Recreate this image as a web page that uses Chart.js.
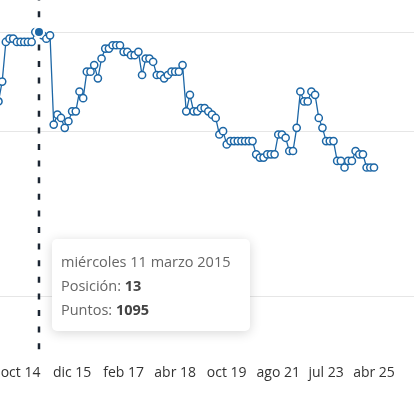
<!DOCTYPE html>
<html>
<head>
<meta charset="utf-8">
<script src="https://cdn.jsdelivr.net/npm/chart.js@4"></script>
<style>
  body { margin: 0; background: #fff; font-family: "Open Sans", sans-serif; }
  #wrap { position: relative; width: 414px; height: 400px; overflow: hidden; }
  #tip {
    position: absolute; opacity: 0; box-sizing: border-box; width: 198px;
    padding: 11px 12px 9px 9px; background: #fff; border-radius: 5px;
    box-shadow: 0 2px 12px rgba(0,0,0,0.16);
    font-size: 14.5px; line-height: 24px; color: #666; white-space: nowrap;
  }
  #tip b { color: #444; font-weight: 700; }
</style>
</head>
<body>
<div id="wrap">
  <canvas id="ranking" width="414" height="400"></canvas>
  <div id="tip"></div>
</div>
<script>
// posicion en el ranking, una por actualizacion (eje ordinal)
const posiciones = [
  34, 28, 16, 15, 15, 16, 16, 16, 16, 16,
  13, 13, 14, 15, 14, 41, 38, 39, 42, 40,
  37, 37, 31, 33, 25, 25, 23, 27, 21, 18,
  18, 17, 17, 17, 19, 19, 20, 20, 19, 26,
  21, 21, 22, 26, 26, 27, 26, 25, 25, 25,
  23, 37, 32, 37, 37, 36, 36, 37, 38, 39,
  44, 43, 47, 46, 46, 46, 46, 46, 46, 46,
  50, 51, 51, 50, 50, 50, 44, 44, 45, 49,
  49, 42, 31, 34, 34, 31, 32, 39, 42, 46,
  46, 46, 52, 52, 54, 52, 52, 49, 50, 50,
  54, 54, 54
];

const etiquetasEje = ['oct 14', 'dic 15', 'feb 17', 'abr 18', 'oct 19', 'ago 21', 'jul 23', 'abr 25'];
const indicesEtiquetas = [6, 20, 34, 48, 62, 76, 89, 102];
const lineasGuia = [13, 43, 93];

const indiceDestacado = 11;
const fechaDestacada = 'miércoles 11 marzo 2015';
const puntosDestacado = 1095;

const azul = '#1d67a6';

function tooltipExterno(context) {
  const { chart, tooltip } = context;
  const el = document.getElementById('tip');
  if (tooltip.opacity === 0 || !tooltip.dataPoints) {
    el.style.opacity = 0;
    return;
  }
  const i = tooltip.dataPoints[0].dataIndex;
  el.innerHTML =
    `<div>${fechaDestacada}</div>` +
    `<div>Posición: <b>${posiciones[i]}</b></div>` +
    `<div>Puntos: <b>${puntosDestacado}</b></div>`;
  el.style.left = (tooltip.caretX + 13) + 'px';
  el.style.top = (chart.chartArea.bottom - 119) + 'px';
  el.style.opacity = 1;
}

const lineaVertical = {
  id: 'lineaVertical',
  beforeDatasetsDraw(chart) {
    const active = chart.getActiveElements();
    if (!active.length) return;
    const x = active[0].element.x;
    const { ctx, chartArea } = chart;
    ctx.save();
    ctx.beginPath();
    ctx.setLineDash([6, 10.6]);
    ctx.lineDashOffset = 5.4;
    ctx.lineWidth = 2.5;
    ctx.strokeStyle = '#1c2633';
    ctx.moveTo(x, chartArea.top);
    ctx.lineTo(x, chartArea.bottom);
    ctx.stroke();
    ctx.restore();
  }
};

const chart = new Chart(document.getElementById('ranking'), {
  type: 'line',
  data: {
    datasets: [{
      label: 'Posición',
      data: posiciones.map((p, i) => ({ x: i, y: p })),
      borderColor: azul,
      borderWidth: 1.3,
      pointRadius: 3.6,
      pointBorderWidth: 1.5,
      pointBackgroundColor: '#fff',
      pointBorderColor: azul,
      pointHoverRadius: 5,
      pointHoverBackgroundColor: azul,
      pointHoverBorderColor: '#fff',
      pointHoverBorderWidth: 2,
      tension: 0
    }]
  },
  options: {
    responsive: false,
    animation: false,
    events: [],
    layout: { autoPadding: false, padding: { top: 0, left: 0, right: 0, bottom: 10.5 } },
    plugins: {
      legend: { display: false },
      tooltip: { enabled: false, external: tooltipExterno }
    },
    scales: {
      x: {
        type: 'linear',
        min: 0.41,
        max: 112.87,
        grid: { display: false, drawTicks: false },
        border: { display: false },
        afterBuildTicks: scale => {
          scale.ticks = indicesEtiquetas.map(v => ({ value: v }));
        },
        afterFit: scale => {
          scale.paddingLeft = 0;
          scale.paddingRight = 0;
        },
        ticks: {
          autoSkip: false,
          maxRotation: 0,
          padding: 7.6,
          color: '#333',
          font: { family: 'Open Sans', size: 14 },
          callback: v => etiquetasEje[indicesEtiquetas.indexOf(v)]
        }
      },
      y: {
        reverse: true,
        min: 3.3,
        max: 111.5,
        border: { display: false },
        grid: { color: '#e6e6e6', lineWidth: 1, drawTicks: false },
        afterBuildTicks: scale => {
          scale.ticks = lineasGuia.map(v => ({ value: v }));
        },
        ticks: { display: false }
      }
    }
  },
  plugins: [lineaVertical]
});

const activo = [{ datasetIndex: 0, index: indiceDestacado }];
chart.setActiveElements(activo);
chart.tooltip.setActiveElements(activo, { x: 0, y: 0 });
chart.update();
</script>
</body>
</html>
